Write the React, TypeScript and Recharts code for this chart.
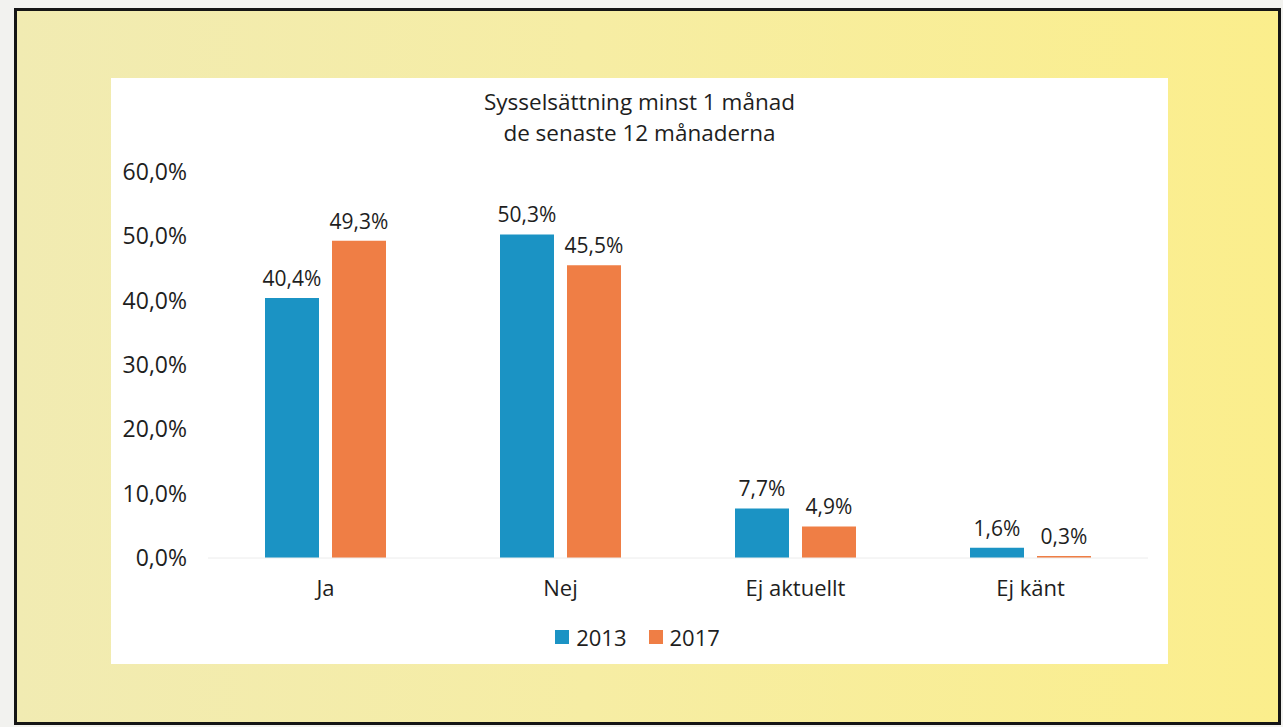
import React from "react";
import { BarChart, Bar, XAxis, YAxis, Legend, LabelList } from "recharts";

const categories = ["Ja", "Nej", "Ej aktuellt", "Ej känt"];
const values2013 = [40.4, 50.3, 7.7, 1.6];
const values2017 = [49.3, 45.5, 4.9, 0.3];
const yTicks = [0, 10, 20, 30, 40, 50, 60];
const seriesNames = ["2013", "2017"];
const titleLines = ["Sysselsättning minst 1 månad", "de senaste 12 månaderna"];

const BLUE = "#1b93c4";
const ORANGE = "#ef7e45";
const TEXT = "#1e1e1e";
const FONT = "'Open Sans', sans-serif";

const data = categories.map((c, i) => ({
  name: c,
  s2013: values2013[i],
  s2017: values2017[i],
}));

const pct = (v: number) => `${Number(v).toFixed(1).replace(".", ",")}%`;

const LegendContent = () => (
  <div
    style={{
      display: "flex",
      justifyContent: "center",
      alignItems: "center",
      fontFamily: FONT,
      fontSize: 22,
      color: TEXT,
    }}
  >
    {seriesNames.map((n, i) => (
      <div key={n} style={{ display: "flex", alignItems: "center", marginRight: i === 0 ? 22 : 0 }}>
        <span
          style={{
            display: "inline-block",
            width: 14,
            height: 14,
            background: i === 0 ? BLUE : ORANGE,
            marginRight: 7,
          }}
        />
        <span>{n}</span>
      </div>
    ))}
  </div>
);

export default function App() {
  return (
    <div
      style={{
        position: "absolute",
        left: 0,
        top: 0,
        width: 1283,
        height: 727,
        background: "#f2f2ef",
        overflow: "hidden",
      }}
    >
      <div
        style={{
          position: "absolute",
          left: 14,
          top: 8,
          width: 1261,
          height: 711,
          border: "3px solid #151515",
          background: "linear-gradient(90deg, #f1ebb2 0%, #f6eda4 45%, #fbee8c 100%)",
        }}
      />
      <div
        style={{
          position: "absolute",
          left: 111,
          top: 78,
          width: 1057,
          height: 586,
          background: "#ffffff",
        }}
      >
        <div
          style={{
            position: "absolute",
            left: 0,
            top: 8,
            width: 1057,
            textAlign: "center",
            fontFamily: FONT,
            fontSize: 22.5,
            lineHeight: "31px",
            color: TEXT,
          }}
        >
          {titleLines.map((t) => (
            <div key={t}>{t}</div>
          ))}
        </div>
        <div style={{ position: "absolute", left: 0, top: 0 }}>
          <BarChart
            width={1057}
            height={586}
            data={data}
            margin={{ top: 94, right: 20, bottom: 46, left: 0 }}
            barSize={54}
            barGap={13}
          >
            <XAxis
              dataKey="name"
              axisLine={{ stroke: "#ececec" }}
              tickLine={false}
              tickSize={0}
              tickMargin={22}
              tick={{ fill: TEXT, fontSize: 22, fontFamily: FONT }}
            />
            <YAxis
              width={97}
              domain={[0, 60]}
              ticks={yTicks}
              tickFormatter={pct}
              axisLine={false}
              tickLine={false}
              tickSize={0}
              tickMargin={21}
              tick={{ fill: TEXT, fontSize: 23, fontFamily: FONT }}
            />
            <Legend
              verticalAlign="bottom"
              content={<LegendContent />}
              wrapperStyle={{ top: 544, left: 0, width: 1053 }}
            />
            <Bar dataKey="s2013" name={seriesNames[0]} fill={BLUE} isAnimationActive={false}>
              <LabelList
                dataKey="s2013"
                position="top"
                offset={12}
                formatter={pct}
                style={{ fill: TEXT, fontSize: 21, fontFamily: FONT }}
              />
            </Bar>
            <Bar dataKey="s2017" name={seriesNames[1]} fill={ORANGE} isAnimationActive={false}>
              <LabelList
                dataKey="s2017"
                position="top"
                offset={12}
                formatter={pct}
                style={{ fill: TEXT, fontSize: 21, fontFamily: FONT }}
              />
            </Bar>
          </BarChart>
        </div>
      </div>
    </div>
  );
}
